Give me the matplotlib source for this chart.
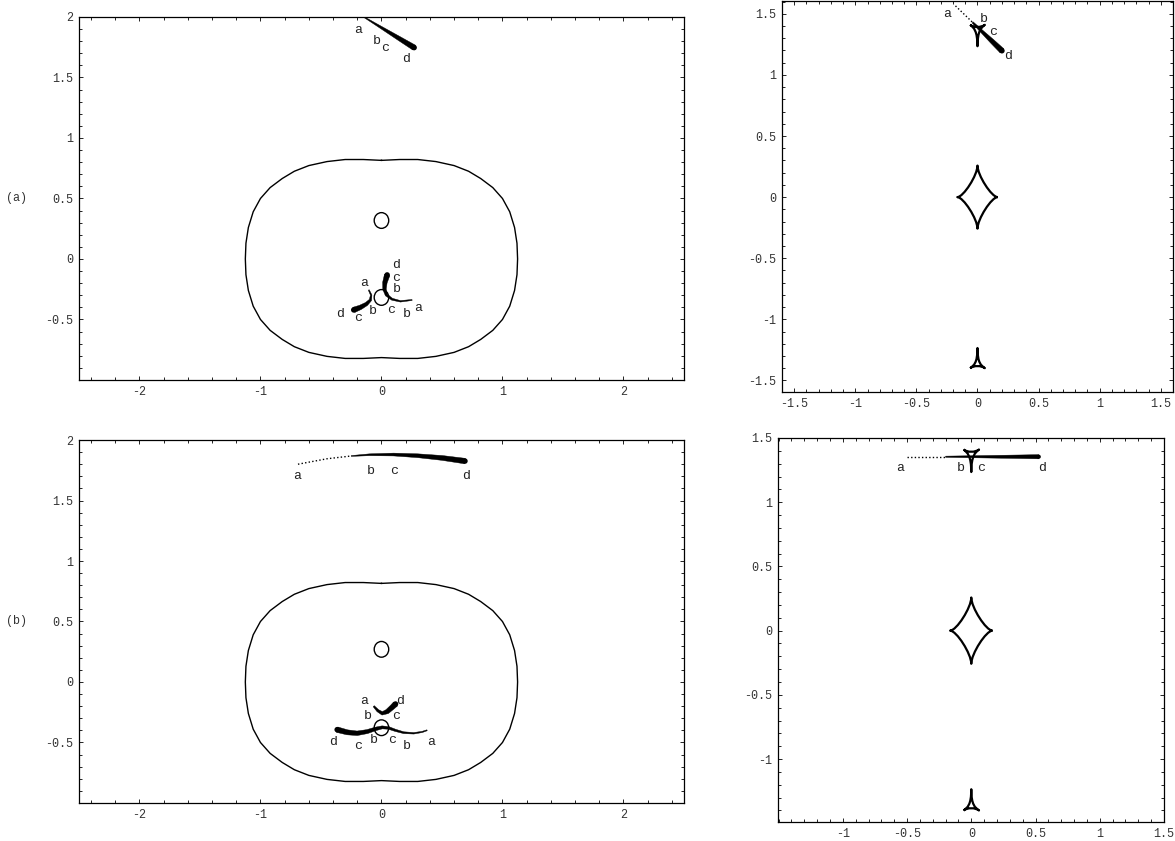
import matplotlib.pyplot as plt
import numpy as np
from matplotlib.patches import Ellipse, Circle, PathPatch, Polygon
from matplotlib.path import Path
from matplotlib.ticker import MultipleLocator, FuncFormatter

plt.rcParams["font.family"] = ["Liberation Mono", "DejaVu Sans Mono"]
plt.rcParams["axes.unicode_minus"] = False

# outer critical curve, first quadrant only (mirrored into the other three)
CRIT_X = [0.0, 0.15, 0.30, 0.45, 0.60, 0.72, 0.82, 0.92, 1.00, 1.06, 1.10, 1.12, 1.125]
CRIT_Y = [0.815, 0.822, 0.822, 0.805, 0.772, 0.725, 0.665, 0.59, 0.50, 0.39, 0.26, 0.13, 0.0]

# the two small critical ovals (centre y) in each left panel
TL_OVAL_Y = [0.318, -0.318]
BL_OVAL_Y = [0.27, -0.378]
OVAL_W = 0.12
OVAL_H = 0.13

# caustics: cusp points and bezier handles
ASTROID_CUSPS = [(0.165, 0.0), (0.0, 0.258), (-0.165, 0.0), (0.0, -0.258)]
ASTROID_HANDLES = [(0.115, 0.0), (0.0, 0.18), (-0.115, 0.0), (0.0, -0.18)]
TRI_TOP_CUSPS = [(-0.06, 1.41), (0.06, 1.41), (0.0, 1.235)]
TRI_TOP_HANDLES = [(-0.03, 1.387), (0.03, 1.387), (0.0, 1.36)]
TRI_BOT_CUSPS = [(-0.06, -1.40), (0.06, -1.40), (0.0, -1.235)]
TRI_BOT_HANDLES = [(-0.03, -1.377), (0.03, -1.377), (0.0, -1.36)]

# image / source tracks: x, y, width in px, number of leading dotted steps
TL_TOP = dict(x=[-0.15, -0.05, 0.05, 0.15, 0.27],
              y=[2.003, 1.942, 1.881, 1.82, 1.747],
              w=[0.8, 1.8, 3.0, 4.2, 5.5], dots=0)
TL_LEFT = dict(x=[-0.105, -0.085, -0.091, -0.124, -0.174, -0.229],
               y=[-0.256, -0.298, -0.339, -0.372, -0.40, -0.421],
               w=[1.0, 1.5, 2.5, 3.5, 4.5, 5.5], dots=0)
TL_RIGHT = dict(x=[0.253, 0.157, 0.088, 0.041, 0.025, 0.028, 0.047],
                y=[-0.339, -0.35, -0.333, -0.298, -0.25, -0.196, -0.132],
                w=[1.0, 1.5, 2.0, 2.5, 3.5, 4.5, 5.5], dots=0)
TR_TRACK = dict(x=[-0.18, -0.04, 0.04, 0.12, 0.20],
                y=[1.565, 1.430, 1.352, 1.275, 1.198],
                w=[0, 1.5, 3.0, 4.5, 5.5], dots=1)
BL_TOP = dict(x=[-0.69, -0.45, -0.25, -0.1, 0.1, 0.3, 0.5, 0.69],
              y=[1.80, 1.845, 1.868, 1.878, 1.88, 1.87, 1.852, 1.826],
              w=[0, 0, 0.8, 1.8, 2.8, 3.8, 4.8, 5.5], dots=2)
BL_VEE = dict(x=[-0.064, -0.03, 0.006, 0.047, 0.088, 0.116],
              y=[-0.2, -0.237, -0.259, -0.245, -0.209, -0.182],
              w=[1.5, 2.5, 3.5, 4.5, 5.0, 5.5], dots=0)
BL_LONG = dict(x=[-0.366, -0.283, -0.201, -0.118, -0.05, 0.006, 0.06, 0.116, 0.184, 0.267, 0.336, 0.377],
               y=[-0.394, -0.416, -0.424, -0.410, -0.388, -0.375, -0.38, -0.40, -0.419, -0.424, -0.413, -0.399],
               w=[5.5, 5.0, 4.5, 4.0, 3.5, 3.0, 2.6, 2.2, 1.8, 1.5, 1.2, 1.0], dots=0)
BR_TRACK = dict(x=[-0.50, -0.20, 0.0, 0.2, 0.4, 0.525],
                y=[1.354, 1.354, 1.354, 1.354, 1.354, 1.354],
                w=[0, 1.2, 2.0, 2.8, 3.6, 4.2], dots=1)

# letter labels: (text, x, y)
TL_LABELS = [("a", -0.19, 1.89), ("b", -0.04, 1.80), ("c", 0.033, 1.747), ("d", 0.207, 1.65),
             ("a", -0.146, -0.201), ("b", -0.069, -0.43), ("c", -0.196, -0.49), ("d", -0.345, -0.455),
             ("d", 0.124, -0.05), ("c", 0.124, -0.154), ("b", 0.124, -0.25),
             ("c", 0.083, -0.421), ("b", 0.207, -0.455), ("a", 0.30, -0.408)]
TR_LABELS = [("a", -0.247, 1.497), ("b", 0.05, 1.456), ("c", 0.128, 1.355), ("d", 0.247, 1.152)]
BL_LABELS = [("a", -0.694, 1.70), ("b", -0.09, 1.744), ("c", 0.107, 1.744), ("d", 0.70, 1.70),
             ("a", -0.146, -0.155), ("d", 0.157, -0.155), ("b", -0.113, -0.279), ("c", 0.124, -0.279),
             ("d", -0.40, -0.50), ("c", -0.196, -0.53), ("b", -0.064, -0.477),
             ("c", 0.088, -0.477), ("b", 0.207, -0.53), ("a", 0.41, -0.50)]
BR_LABELS = [("a", -0.555, 1.27), ("b", -0.078, 1.27), ("c", 0.078, 1.27), ("d", 0.552, 1.27)]

LEFT_XTICKS = [-2, -1, 0, 1, 2]
LEFT_YTICKS = [-0.5, 0, 0.5, 1, 1.5, 2]
TR_TICKS = [-1.5, -1, -0.5, 0, 0.5, 1, 1.5]
BR_XTICKS = [-1, -0.5, 0, 0.5, 1, 1.5]
BR_YTICKS = [-1, -0.5, 0, 0.5, 1, 1.5]


def style_axes(ax, xminor, yminor, xticks, yticks):
    ax.xaxis.set_minor_locator(MultipleLocator(xminor))
    ax.yaxis.set_minor_locator(MultipleLocator(yminor))
    ax.set_xticks(xticks)
    ax.set_yticks(yticks)
    fmt = FuncFormatter(lambda v, p: "%g" % v)
    ax.xaxis.set_major_formatter(fmt)
    ax.yaxis.set_major_formatter(fmt)
    ax.tick_params(which="both", direction="in", top=True, right=True,
                   width=0.6, labelsize=8.5, labelcolor="#333333", pad=4)
    ax.tick_params(which="major", length=3.2)
    ax.tick_params(which="minor", length=2.0)
    for s in ax.spines.values():
        s.set_linewidth(0.9)


def ribbon(ax, track, scale):
    x = np.asarray(track["x"], float)
    y = np.asarray(track["y"], float)
    w = np.asarray(track["w"], float) / scale / 2
    k = track["dots"]
    if k > 0:
        ax.plot(x[:k + 1], y[:k + 1], color="k", lw=1.0, ls=(0, (1, 1.6)))
    x, y, w = x[k:], y[k:], w[k:]
    dx, dy = np.gradient(x), np.gradient(y)
    n = np.hypot(dx, dy)
    nx, ny = -dy / n, dx / n
    left = np.column_stack([x + nx * w, y + ny * w])
    right = np.column_stack([x - nx * w, y - ny * w])
    ax.add_patch(Polygon(np.vstack([left, right[::-1]]), closed=True,
                         fc="k", ec="k", lw=0.3))
    i = np.argmax(w)
    ax.add_patch(Circle((x[i], y[i]), w[i], fc="k", ec="none"))


def caustic(ax, cusps, handles, lw=1.6):
    verts = [cusps[0]]
    codes = [Path.MOVETO]
    n = len(cusps)
    for i in range(n):
        j = (i + 1) % n
        verts += [handles[i], handles[j], cusps[j]]
        codes += [Path.CURVE4] * 3
    ax.add_patch(PathPatch(Path(verts, codes), fc="none", ec="k", lw=lw,
                           joinstyle="round"))


def critical_curves(ax, oval_y):
    qx, qy = np.array(CRIT_X), np.array(CRIT_Y)
    xs = np.concatenate([qx, qx[::-1][1:], -qx[1:], -qx[::-1][1:]])
    ys = np.concatenate([qy, -qy[::-1][1:], -qy[1:], qy[::-1][1:]])
    ax.plot(xs, ys, color="k", lw=1.0)
    for yc in oval_y:
        ax.add_patch(Ellipse((0, yc), OVAL_W, OVAL_H, fc="none", ec="k", lw=1.0))


def letters(ax, labels):
    for t, x, y in labels:
        ax.text(x, y, t, ha="center", va="center", fontsize=9.5, color="#222222")


fig = plt.figure(figsize=(11.75, 8.41), dpi=100)

ax_tl = fig.add_axes([0.0672, 0.5482, 0.5149, 0.4316])
ax_bl = fig.add_axes([0.0672, 0.0452, 0.5149, 0.4316])
ax_tr = fig.add_axes([0.6655, 0.5339, 0.3328, 0.4649])
ax_br = fig.add_axes([0.6621, 0.0226, 0.3285, 0.4566])

for ax, oy in ((ax_tl, TL_OVAL_Y), (ax_bl, BL_OVAL_Y)):
    ax.set_xlim(-2.5, 2.5)
    ax.set_ylim(-1.0, 2.0)
    style_axes(ax, 0.2, 0.1, LEFT_XTICKS, LEFT_YTICKS)
    critical_curves(ax, oy)

ax_tr.set_xlim(-1.6, 1.6)
ax_tr.set_ylim(-1.595, 1.605)
style_axes(ax_tr, 0.1, 0.1, TR_TICKS, TR_TICKS)
ax_br.set_xlim(-1.505, 1.5)
ax_br.set_ylim(-1.49, 1.5)
style_axes(ax_br, 0.1, 0.1, BR_XTICKS, BR_YTICKS)

for ax in (ax_tr, ax_br):
    caustic(ax, ASTROID_CUSPS, ASTROID_HANDLES)
    caustic(ax, TRI_TOP_CUSPS, TRI_TOP_HANDLES)
    caustic(ax, TRI_BOT_CUSPS, TRI_BOT_HANDLES)

for tr in (TL_TOP, TL_LEFT, TL_RIGHT):
    ribbon(ax_tl, tr, 121.0)
for tr in (BL_TOP, BL_VEE, BL_LONG):
    ribbon(ax_bl, tr, 121.0)
ribbon(ax_tr, TR_TRACK, 122.2)
ribbon(ax_br, BR_TRACK, 128.5)

letters(ax_tl, TL_LABELS)
letters(ax_tr, TR_LABELS)
letters(ax_bl, BL_LABELS)
letters(ax_br, BR_LABELS)

ax_tl.text(-0.1025, 0.5, "(a)", transform=ax_tl.get_yaxis_transform(),
           ha="center", va="center", fontsize=8.5, color="#333333")
ax_bl.text(-0.1025, 0.5, "(b)", transform=ax_bl.get_yaxis_transform(),
           ha="center", va="center", fontsize=8.5, color="#333333")

fig.savefig("out.png", dpi=100)
